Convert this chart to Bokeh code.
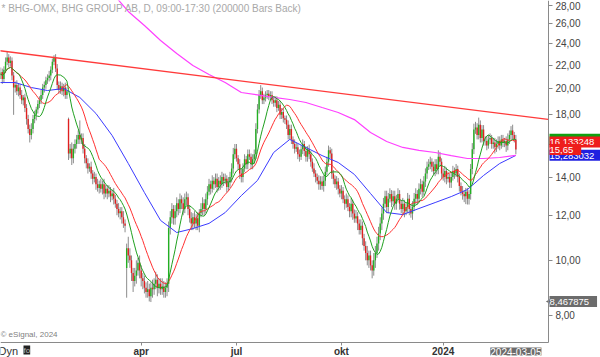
import math
import pandas as pd
from bokeh.plotting import figure
from bokeh.models import (Range1d, FixedTicker, Label, ColumnDataSource,
                          CustomJSTickFormatter, LogAxis, LinearAxis)
from bokeh.embed import file_html
from bokeh.resources import INLINE

# ---------------- data ----------------
holidays = ["2022-12-26", "2023-01-06", "2023-04-07", "2023-04-10", "2023-05-01",
            "2023-05-18", "2023-06-06", "2023-06-23", "2023-12-25", "2023-12-26",
            "2024-01-01"]
days = pd.bdate_range("2022-11-28", "2024-03-05")
days = days[~days.isin(pd.to_datetime(holidays))]

first_open = 20.8
gap_open_idx = [43, 79]
gap_open_val = [17.7, 9.7]
closes = [
    21.1, 21.4, 20.8, 21.6, 22.3, 22.7, 22.2, 22.4, 21.1, 20.1,
    20.3, 19.8, 20.1, 19.5, 19.1, 19.3, 18.5, 17.7, 17.0, 16.6,
    17.0, 17.7, 18.0, 18.4, 18.8, 19.1, 19.5, 20.1, 20.3, 20.7,
    20.9, 21.1, 21.6, 22.3, 22.7, 21.7, 20.3, 19.9, 20.2, 19.8,
    20.1, 19.5, 19.8, 15.4, 15.7, 15.1, 15.7, 16.0, 16.3, 16.6,
    16.3, 16.4, 15.7, 15.1, 14.8, 14.5, 14.6, 14.2, 13.9, 14.0,
    13.6, 13.4, 13.6, 13.35, 13.6, 13.1, 13.35, 13.1, 13.25, 12.95,
    13.1, 12.83, 12.57, 12.3, 12.1, 12.2, 11.9, 11.6, 11.5, 10.5,
    10.2, 10.0, 9.5, 9.2, 9.4, 9.6, 9.9, 9.6, 9.3, 9.2,
    8.95, 8.8, 8.9, 8.65, 8.95, 8.9, 9.1, 9.25, 8.95, 9.1,
    8.9, 9.0, 8.8, 8.95, 9.1, 11.4, 11.9, 12.3, 11.85, 12.2,
    12.6, 12.3, 12.8, 12.6, 12.3, 12.8, 12.9, 12.3, 11.85, 11.6,
    11.9, 11.6, 11.85, 11.5, 12.1, 12.3, 12.6, 12.3, 12.8, 13.2,
    13.6, 13.35, 13.8, 13.6, 13.9, 13.45, 13.8, 13.6, 14.0, 13.8,
    13.9, 13.45, 13.7, 14.0, 14.5, 15.35, 15.7, 15.1, 14.75, 14.2,
    14.0, 14.5, 15.05, 14.75, 15.35, 15.2, 14.75, 15.05, 15.35, 17.0,
    18.4, 19.5, 19.8, 19.1, 19.3, 19.5, 19.6, 19.4, 19.5, 19.1,
    18.9, 19.1, 18.5, 18.75, 18.0, 18.2, 17.75, 17.65, 17.3, 16.6,
    17.0, 16.3, 16.0, 15.7, 15.8, 15.35, 15.2, 15.66, 16.0, 15.55,
    15.2, 15.66, 15.35, 14.9, 14.5, 14.2, 14.0, 13.8, 13.6, 13.75,
    13.5, 13.8, 14.3, 14.9, 15.6, 15.4, 14.2, 13.9, 13.6, 13.75,
    13.35, 13.1, 13.25, 12.8, 12.57, 12.8, 12.4, 12.2, 12.57, 12.08,
    11.84, 11.95, 11.6, 11.3, 11.5, 10.93, 10.6, 10.3, 10.0, 10.2,
    9.8, 9.6, 10.0, 10.3, 10.7, 11.15, 11.6, 12.08, 12.57, 12.95,
    12.4, 12.83, 13.08, 12.7, 12.95, 12.57, 12.83, 13.08, 12.57, 12.3,
    12.57, 12.2, 12.4, 12.83, 12.3, 12.08, 12.4, 12.83, 13.08, 12.83,
    13.35, 13.6, 13.2, 13.75, 14.2, 14.6, 14.75, 14.9, 14.6, 14.35,
    14.75, 14.46, 15.2, 14.9, 14.2, 14.0, 14.35, 13.9, 14.0, 13.7,
    14.0, 14.35, 14.2, 14.46, 14.0, 13.5, 13.2, 13.08, 12.95, 13.2,
    12.83, 13.08, 14.46, 15.66, 16.97, 17.1, 16.6, 17.3, 16.4, 16.97,
    16.2, 16.2, 15.9, 16.3, 16.4, 16.0, 16.1, 15.8, 16.0, 16.2,
    15.9, 16.3, 16.1, 16.2, 15.9, 16.3, 16.6, 16.9, 16.6, 16.3,
    15.65,
]
upper_wick = [
    .3, .4, .3, .3, .4, .6, .3, .4, .3, .3,
    .3, .4, .3, .3, .4, .2, .3, .3, .3, .3,
    .4, .3, .3, .2, .3, .3, .4, .3, .3, .3,
    .3, .4, .3, .3, .2, .3, .4, .3, .4, .3,
    .3, .4, .3, .1, .3, .4, .3, .3, .3, .3,
    1.0, .3, .3, .3, .2, .3, .2, .3, .2, .3,
    .2, .3, .2, .3, .2, .3, .2, .2, .3, .2,
    .2, .3, .2, .2, .3, .2, .2, .3, .2, .2,
    .5, .3, .2, .2, .3, .4, .2, .3, .2, .2,
    .2, .2, .3, .2, .2, .3, .2, .3, .2, .2,
    .2, .3, .2, .2, .2, .3, .3, .3, .2, .3,
    .3, .2, .3, .2, .3, .3, .3, .2, .2, .3,
    .2, .3, .2, .3, .2, .3, .3, .2, .3, .3,
    .3, .2, .3, .2, .3, .3, .2, .3, .3, .2,
    .3, .2, .3, .3, .3, .4, .3, .3, .2, .3,
    .3, .3, .3, .2, .3, .3, .2, .3, .3, .4,
    .4, .4, .5, .3, .3, .3, .3, .3, .3, .3,
    .3, .3, .3, .3, .3, .3, .3, .2, .3, .3,
    .3, .3, .2, .3, .3, .2, .3, .3, .3, .2,
    .3, .2, .3, .2, .2, .3, .2, .2, .3, .3,
    .3, .3, .3, .3, .3, .2, .3, .2, .2, .3,
    .2, .2, .3, .2, .2, .3, .2, .2, .3, .2,
    .2, .3, .2, .2, .3, .2, .2, .2, .3, .2,
    .2, .2, .3, .3, .3, .3, .3, .3, .3, .3,
    .3, .3, .3, .2, .3, .3, .2, .3, .2, .2,
    .3, .2, .2, .3, .2, .2, .3, .3, .3, .2,
    .3, .3, .2, .3, .3, .3, .3, .3, .2, .3,
    .3, .3, .4, .3, .2, .3, .3, .2, .3, .2,
    .3, .3, .2, .3, .2, .2, .2, .3, .2, .2,
    .2, .2, .3, .4, .4, .4, .3, .5, .3, .3,
    .3, .3, .3, .3, .3, .2, .3, .3, .3, .3,
    .3, .3, .3, .2, .3, .4, .3, .3, .4, .2,
    .3,
]
lower_wick = [
    .3, .3, .4, .3, .3, .3, .4, .3, .4, 2.1,
    .4, .3, .4, .3, .3, .4, .3, .4, .3, .5,
    .3, .3, .3, .4, .3, .3, .3, .3, .4, .3,
    .3, .3, .4, .3, .3, .3, .4, .3, .3, .3,
    .4, .3, .3, .4, .3, .4, .3, .3, .3, .3,
    .3, .3, .3, .3, .3, .3, .2, .3, .3, .2,
    .3, .2, .3, .2, .3, .3, .2, .3, .2, .3,
    .2, .3, .2, .3, .2, .3, .3, .2, .3, 1.1,
    .3, .3, .3, .4, .2, .3, .2, .3, .3, .3,
    .2, .2, .2, .18, .2, .3, .2, .2, .3, .2,
    .2, .2, .2, .2, .3, .3, .3, .3, .3, .3,
    .3, .3, .2, .3, .3, .2, .3, .3, .2, .3,
    .3, .2, .3, .2, .3, .2, .3, .3, .2, .3,
    .2, .3, .2, .3, .2, .3, .2, .3, .2, .3,
    .2, .3, .2, .3, .3, .3, .3, .2, .3, .3,
    .3, .3, .2, .3, .3, .2, .3, .3, .3, .3,
    .3, .3, .3, .3, .3, .3, .3, .3, .3, .3,
    .3, .3, .3, .2, .3, .3, .3, .3, .3, .3,
    .3, .3, .3, .3, .2, .3, .3, .2, .3, .3,
    .3, .3, .3, .3, .2, .2, .3, .2, .3, .3,
    .2, .3, .3, .2, .3, .3, .3, .3, .2, .3,
    .3, .2, .3, .2, .3, .2, .2, .3, .3, .3,
    .2, .2, .3, .2, .2, .3, .2, .3, .2, .3,
    .2, .3, .2, .3, .2, .3, .3, .3, .3, .2,
    .3, .3, .2, .3, .2, .3, .3, .2, .3, .2,
    .3, .3, .2, .3, .3, .2, .3, .2, .3, .3,
    .2, .3, .3, .2, .3, .3, .2, .3, .3, .2,
    .3, .3, .3, .3, .3, .2, .3, .3, .2, .3,
    .3, .2, .3, .2, .3, .3, .2, .3, .3, .4,
    .3, .3, .3, .3, .3, .3, .3, .3, .3, .3,
    .3, .3, .3, .2, .3, .3, .3, .4, .3, .3,
    .3, .2, .3, .3, .4, .3, .3, .3, .3, .2,
    .3,
]

# slow moving averages (bar index -> value)
blue_idx = [0, 10, 20, 30, 40, 50, 60, 70, 80, 90, 100, 110, 120, 130, 140, 150, 160,
            170, 180, 190, 200, 210, 220, 230, 240, 250, 260, 270, 280, 290, 300, 310, 320]
blue_val = [20.51, 20.51, 20.10, 19.86, 20.02, 19.31, 18.10, 16.56, 14.79, 13.15, 11.75,
            11.19, 11.37, 11.61, 12.13, 12.99, 13.81, 15.46, 16.30, 15.78, 15.27, 14.85,
            14.15, 13.10, 12.13, 12.03, 12.33, 12.63, 12.94, 13.31, 14.09, 14.79, 15.28]
mag_idx = [72, 80, 90, 100, 110, 120, 130, 140, 150, 160, 170, 180, 190, 200, 210, 220,
           230, 240, 250, 260, 270, 280, 290, 300, 310, 320]
mag_val = [29.04, 27.33, 25.83, 24.31, 23.06, 21.97, 21.19, 20.51, 19.70, 19.51, 19.31,
           19.15, 18.92, 18.54, 18.17, 17.66, 16.76, 16.16, 15.78, 15.59, 15.46, 15.27,
           15.09, 15.09, 15.15, 15.28]
trend_idx = [0, 340]
trend_val = [23.33, 17.67]

visible_low = 8.467875
y_ticks = [8, 10, 12, 14, 16, 18, 20, 22, 24, 26, 28]
month_ticks = [(2023, 4, "apr"), (2023, 7, "jul"), (2023, 10, "okt"), (2024, 1, "2024")]

# ---------------- derived ----------------
n = min(len(days), len(closes))
idx = list(range(n))
closes = closes[:n]
opens = [first_open] + closes[:-1]
for k, v in zip(gap_open_idx, gap_open_val):
    opens[k] = v
highs = [max(o, c) + u for o, c, u in zip(opens, closes, upper_wick)]
lows = [min(o, c) - l for o, c, l in zip(opens, closes, lower_wick)]
colors = ["#22b022" if c >= o else "#e02020" for o, c in zip(opens, closes)]
src = ColumnDataSource(dict(x=idx, o=opens, c=closes, h=highs, l=lows,
                            top=[max(o, c) for o, c in zip(opens, closes)],
                            bot=[min(o, c) for o, c in zip(opens, closes)],
                            col=colors))
s = pd.Series(closes)
ma_fast = s.rolling(10, min_periods=1).mean()
ma_mid = s.rolling(20, min_periods=1).mean()

tick_pos, tick_lab = [], {}
for yy, mm, lab in month_ticks:
    k = int(((days.year == yy) & (days.month == mm)).argmax())
    tick_pos.append(k)
    tick_lab[k] = lab

# view: the price area is 548 x 342 px; the whole canvas is the frame
x0, x_edge, x_full = 0.88, 340.2, 372.4
y_bot, y_top, y_full_bot = 7.17, 28.57, 6.754

p = figure(width=600, height=357, y_axis_type="log",
           x_axis_location=None, y_axis_location=None,
           x_range=Range1d(x0, x_full), y_range=Range1d(y_full_bot, y_top),
           output_backend="svg", toolbar_location=None,
           min_border_left=0, min_border_right=0, min_border_top=0, min_border_bottom=0)
p.outline_line_color = None
p.xgrid.visible = False
p.ygrid.visible = False
p.background_fill_color = "white"
p.border_fill_color = "white"

# price axis: drawn at the right edge of the price area, labels to its right
ya = LogAxis(fixed_location=x_edge, bounds=(y_bot, y_top),
             ticker=FixedTicker(ticks=y_ticks, minor_ticks=[]),
             formatter=CustomJSTickFormatter(code="""
                 const s = tick.toFixed(2).replace('.', ',');
                 return tick < 10 ? s + '\\u2007' : s;"""))
ya.axis_line_color = "#8a8a8a"
ya.major_tick_line_color = "#8a8a8a"
ya.major_tick_out = 0
ya.major_tick_in = 4
ya.minor_tick_line_color = None
ya.major_label_standoff = -32
ya.major_label_text_font = "Liberation Sans"
ya.major_label_text_font_size = "10px"
ya.major_label_text_color = "#444444"
p.add_layout(ya, "left")

# date axis: drawn at the bottom of the price area, labels below it
xa = LinearAxis(fixed_location=y_bot, bounds=(x0, x_edge),
                ticker=FixedTicker(ticks=tick_pos, minor_ticks=[]))
xa.major_label_overrides = tick_lab
xa.axis_line_color = "#8a8a8a"
xa.major_tick_line_color = "#8a8a8a"
xa.major_tick_out = 0
xa.major_tick_in = 3
xa.minor_tick_line_color = None
xa.major_label_standoff = -14
xa.major_label_text_font = "Liberation Sans"
xa.major_label_text_font_style = "bold"
xa.major_label_text_font_size = "10px"
xa.major_label_text_color = "#333333"
p.add_layout(xa, "above")

# candles
p.segment(x0="x", y0="l", x1="x", y1="h", source=src, line_color="#8c8c8c", line_width=1)
p.vbar(x="x", width=0.85, top="top", bottom="bot", source=src,
       fill_color="col", line_color=None)

# lines
p.line(blue_idx, blue_val, line_color="#3a3aff", line_width=1)
p.line(mag_idx, mag_val, line_color="#ff40ff", line_width=1.2)
p.line(idx, list(ma_mid), line_color="#ff3030", line_width=1)
p.line(idx, list(ma_fast), line_color="#20a020", line_width=1)
p.line(trend_idx, trend_val, line_color="#ff3a3a", line_width=1.3)

# texts
p.add_layout(Label(x=x0, y=y_top, x_offset=1, y_offset=-2, text_baseline="top",
                   text="* BHG-OMX, BHG GROUP AB, D, 09:00-17:30 (200000 Bars Back)",
                   text_font="Liberation Sans", text_font_size="10px", text_color="#a8a8a8"))
p.add_layout(Label(x=x0, y=y_bot, x_offset=0, y_offset=4, text_baseline="bottom",
                   text="\u00a9 eSignal, 2024",
                   text_font="Liberation Sans", text_font_size="8px", text_color="#808080"))

def price_box(val, text, bg, fg="white"):
    lbl = Label(x=x_edge, y=val, x_offset=1, text=" " + text + "  ", text_baseline="middle",
                text_font="Liberation Sans", text_font_size="9.5px", text_color=fg,
                background_fill_color=bg)
    p.add_layout(lbl)

price_box(16.31, "16,314458", "#10a010")
price_box(15.283032, "15,283032", "#2020e0")
price_box(16.133248, "16,133248", "#ee1c1c")
price_box(closes[-1], "15,65", "#ee1c1c")
p.scatter([x_edge + 1.6], [visible_low], marker="triangle", size=9, angle=math.pi / 2,
          fill_color="#6c6c6c", line_color=None)
price_box(visible_low, "8,467875", "#6c6c6c")

p.add_layout(Label(x=x0, y=y_full_bot, x_offset=-2, y_offset=1, text_baseline="bottom",
                   text="Dyn", text_font="Liberation Sans", text_font_size="11px",
                   text_color="#333333"))
p.add_layout(Label(x=x0, y=y_full_bot, x_offset=23, y_offset=3, text_baseline="bottom",
                   text="fo", text_font="Liberation Sans", text_font_size="8px",
                   text_color="#bbbbbb", background_fill_color="#222222"))
p.add_layout(Label(x=idx[-1], y=y_full_bot, y_offset=2, text_baseline="bottom",
                   text_align="center",
                   text=str(days[n - 1].date()), text_font="Liberation Sans",
                   text_font_size="10px", text_color="white", background_fill_color="#6c6c6c"))

open("out.html", "w").write(file_html(p, INLINE))
